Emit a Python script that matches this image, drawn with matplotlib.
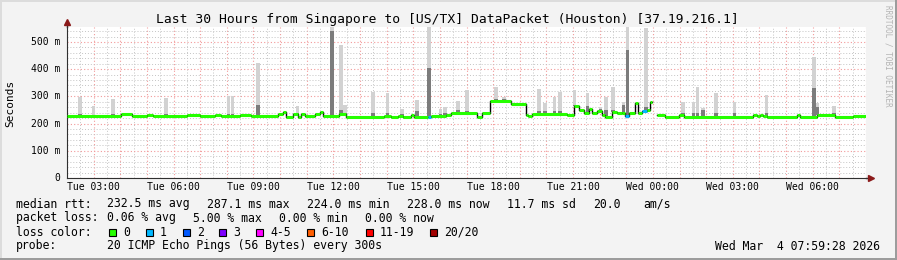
import numpy as np
import matplotlib
matplotlib.use('Agg')
import matplotlib.pyplot as plt
from matplotlib.patches import Rectangle

W, H = 897, 260
MONO = 'DejaVu Sans Mono'

# median rtt as step segments: start hour (0 = Tue 02:00), ms, loss bucket
seg_start = [0.00, 2.03, 2.44, 3.00, 3.23, 4.51, 4.99, 5.56, 5.78, 6.50,
             6.91, 7.92, 8.11, 8.22, 8.49, 8.67, 8.79, 8.94, 9.31, 9.50,
             9.61, 10.21, 10.48, 11.90, 12.17, 12.43, 12.62, 12.92, 13.03, 13.56,
             13.67, 14.23, 14.42, 15.40, 15.58, 15.88, 16.67, 17.24, 17.31, 17.46,
             18.78, 19.04, 19.23, 19.41, 19.60, 19.71, 19.90, 20.09, 20.20, 20.47,
             20.65, 20.84, 20.95, 21.10, 21.33, 21.44, 21.59, 21.78, 21.89, 21.97,
             22.16, 22.46, 22.98, 23.17, 25.76, 25.91, 26.02, 26.14, 26.29, 27.41,
             27.52, 28.16, 28.84, 29.51]
seg_ms = [228, 235, 227, 232, 227, 232, 227, 231, 227, 232,
          227, 234, 243, 226, 234, 226, 237, 227, 237, 242,
          227, 235, 225, 229, 225, 229, 225, 232, 225, 225,
          227, 233, 240, 223, 238, 283, 271, 232, 228, 236,
          232, 265, 250, 238, 253, 240, 245, 232, 225, 243,
          240, 238, 228, 238, 275, 240, 245, 250, 279, np.nan,
          233, 225, 232, 225, 233, 228, 233, 227, 225, 230,
          226, 233, 225, 227]
seg_loss = [0] * len(seg_start)
seg_loss[29] = 1
seg_loss[52] = 1
seg_loss[56] = 1
END_H = 30.0

# smoke: hour, top of the spread (ms), top of the dark part (ms)
spike_h = [0.49, 0.98, 1.73, 3.72, 6.05, 6.20, 7.17, 8.64, 9.95, 10.29,
           10.44, 11.49, 12.02, 12.58, 13.14, 13.59, 14.01, 14.19, 14.68, 15.02,
           16.11, 16.41, 17.72, 17.95, 18.29, 18.51, 19.04, 19.53, 20.02, 20.24,
           20.50, 20.88, 21.03, 21.74, 23.13, 23.51, 23.66, 23.88, 24.37, 25.05,
           26.25, 28.05, 28.16, 28.80]
spike_top = [298, 265, 290, 294, 301, 301, 421, 265, 555, 489,
             268, 317, 312, 254, 287, 555, 254, 261, 284, 324,
             336, 299, 327, 276, 299, 317, 324, 312, 262, 299,
             336, 281, 555, 551, 281, 281, 336, 257, 314, 281,
             305, 444, 276, 265]
spike_mid = [235, 232, 235, 235, 235, 235, 268, 240, 540, 250,
             240, 240, 240, 235, 245, 404, 235, 240, 250, 245,
             290, 290, 245, 245, 245, 245, 270, 265, 255, 250,
             250, 270, 470, 260, 240, 240, 240, 250, 240, 240,
             240, 330, 260, 240]

tick_hours = [1, 4, 7, 10, 13, 16, 19, 22, 25, 28]
tick_labels = ['Tue 03:00', 'Tue 06:00', 'Tue 09:00', 'Tue 12:00', 'Tue 15:00',
               'Tue 18:00', 'Tue 21:00', 'Wed 00:00', 'Wed 03:00', 'Wed 06:00']
ytick_vals = [0, 100, 200, 300, 400, 500]
ytick_labels = ['0', '100 m', '200 m', '300 m', '400 m', '500 m']

loss_names = ['0', '1', '2', '3', '4-5', '6-10', '11-19', '20/20']
loss_colors = ['#26ff00', '#00b8ff', '#0059ff', '#7e00ff', '#ff00ff',
               '#ff5e00', '#ff0000', '#a10000']


def fx(x):
    return x / W


def fy(y):
    return 1 - y / H


fig = plt.figure(figsize=(W / 100, H / 100), dpi=100, facecolor='#f3f3f3')
ax = fig.add_axes([fx(67), fy(178), 799 / W, 151 / H])
ax.set_facecolor('white')
ax.set_xlim(0, END_H)
ax.set_ylim(0, 555)

# grid
ax.set_axisbelow(True)
ax.set_xticks(np.arange(0.5, END_H, 1.0), minor=True)
ax.set_xticks(np.arange(0, END_H + 0.1, 1.0))
ax.set_yticks(np.arange(20, 556, 20), minor=True)
ax.set_yticks(np.arange(0, 556, 100))
ax.grid(which='minor', color='#c4c4c4', linestyle=(0, (1, 2)), lw=0.7)
ax.grid(which='major', color='#f29a9a', linestyle=(0, (1, 2)), lw=0.8)
ax.tick_params(which='both', length=0)
ax.set_xticklabels([])
ax.set_yticklabels([])

for h, lab in zip(tick_hours, tick_labels):
    ax.text(h, -9.5 / 151, lab, ha='center', va='center', family=MONO, size=7,
            transform=ax.get_xaxis_transform())
for v, lab in zip(ytick_vals, ytick_labels):
    ax.text(-0.26, v, lab, ha='right', va='center', family=MONO, size=7)

# smoke
starts = np.array(seg_start)
vals = np.array(seg_ms, dtype=float)
idx = np.searchsorted(starts, spike_h, side='right') - 1
base = vals[idx]
base = np.where(np.isnan(base), 225, base)
spike_top = np.array(spike_top)
spike_mid = np.array(spike_mid)
ax.bar(spike_h, spike_top - base, bottom=base, width=0.12, color='#d2d2d2',
       zorder=2, linewidth=0)
ax.bar(spike_h, spike_mid - base, bottom=base, width=0.12, color='#7c7c7c',
       zorder=2, linewidth=0)

# median line
xs = np.append(starts, END_H)
ys = np.append(vals, vals[-1])
ax.step(xs, ys, where='post', color='black', lw=1, zorder=3)
ends = np.append(starts[1:], END_H)
for s, e, v, l in zip(starts, ends, vals, seg_loss):
    if not np.isnan(v):
        ax.hlines(v, s, e, color=loss_colors[l], lw=2.2, zorder=4)

# axes with arrows
for sp in ['top', 'right']:
    ax.spines[sp].set_visible(False)
ax.spines['left'].set_color('#303030')
ax.spines['bottom'].set_color('#303030')
ax.plot([0, 0], [1, 1.04], transform=ax.transAxes, color='#303030', lw=1,
        clip_on=False)
ax.plot([0], [1.035], marker='^', markersize=4.5, color='#8b1a1a',
        transform=ax.transAxes, clip_on=False)
ax.plot([1, 1.006], [0, 0], transform=ax.transAxes, color='#303030', lw=1,
        clip_on=False)
ax.plot([1.006], [0], marker='>', markersize=4.5, color='#8b1a1a',
        transform=ax.transAxes, clip_on=False)

# title and labels
fig.text(fx(447), fy(19), 'Last 30 Hours from Singapore to [US/TX] DataPacket (Houston) [37.19.216.1]',
         ha='center', va='center', family=MONO, size=9.4)
fig.text(fx(10), fy(103), 'Seconds', rotation=90, ha='center', va='center',
         family=MONO, size=8)
fig.text(fx(888), fy(5), 'RRDTOOL / TOBI OETIKER', rotation=-90, ha='center',
         va='top', family=MONO, size=5.5, color='#b4b4b4')

# legend
lsize = 8.3
row1 = [(16, 'median rtt:'), (107, '232.5 ms avg'), (207, '287.1 ms max'),
        (307, '224.0 ms min'), (407, '228.0 ms now'), (507, '11.7 ms sd'),
        (593, '20.0'), (643, 'am/s')]
row2 = [(16, 'packet loss:'), (107, '0.06 % avg'), (193, '5.00 % max'),
        (279, '0.00 % min'), (365, '0.00 % now')]
for x, t in row1:
    fig.text(fx(x), fy(204), t, ha='left', va='center', family=MONO, size=lsize)
for x, t in row2:
    fig.text(fx(x), fy(218), t, ha='left', va='center', family=MONO, size=lsize)

fig.text(fx(16), fy(232), 'loss color:', ha='left', va='center', family=MONO, size=lsize)
box_x = [109, 145.7, 182.7, 219.3, 256, 307, 365.7, 430.3]
for bx, name, c in zip(box_x, loss_names, loss_colors):
    fig.add_artist(Rectangle((fx(bx), fy(235.5)), 7 / W, 7 / H,
                             transform=fig.transFigure, facecolor=c,
                             edgecolor='black', lw=0.8))
    fig.text(fx(bx + 14), fy(232), name, ha='left', va='center', family=MONO, size=lsize)

fig.text(fx(16), fy(246), 'probe:', ha='left', va='center', family=MONO, size=lsize)
fig.text(fx(107), fy(246), '20 ICMP Echo Pings (56 Bytes) every 300s', ha='left',
         va='center', family=MONO, size=lsize)
fig.text(fx(880), fy(246), 'Wed Mar  4 07:59:28 2026', ha='right', va='center',
         family=MONO, size=lsize)

# frame
fig.add_artist(Rectangle((0, fy(2)), 1, 2 / H, transform=fig.transFigure,
                         facecolor='#dcdcdc', lw=0))
fig.add_artist(Rectangle((0, 0), 2 / W, 1, transform=fig.transFigure,
                         facecolor='#dcdcdc', lw=0))
fig.add_artist(Rectangle((0, 0), 1, 2 / H, transform=fig.transFigure,
                         facecolor='#9c9c9c', lw=0))
fig.add_artist(Rectangle((fx(895), 0), 2 / W, 1, transform=fig.transFigure,
                         facecolor='#9c9c9c', lw=0))

fig.savefig('out.png', dpi=100, facecolor=fig.get_facecolor())
